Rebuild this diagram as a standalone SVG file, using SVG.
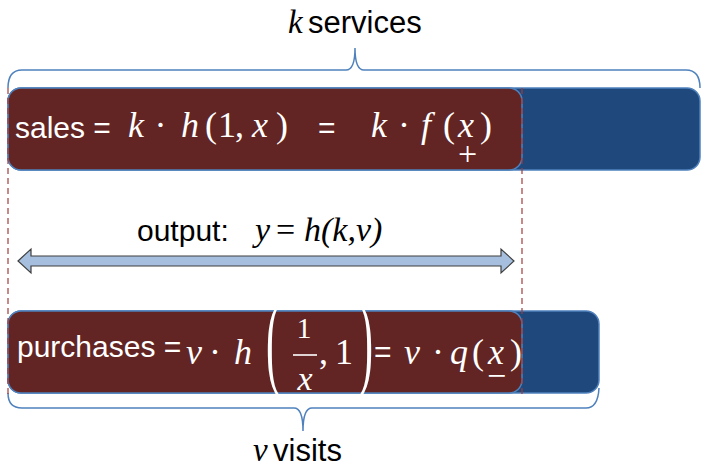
<svg xmlns="http://www.w3.org/2000/svg" width="702" height="468" viewBox="0 0 702 468">
<style>
.sans{font-family:"Liberation Sans",Arial,sans-serif;font-size:30px}
.serif{font-family:"Liberation Serif","Times New Roman",serif;font-size:36px}
.it{font-style:italic}
.w{fill:#ffffff}
.b{fill:#000000}
.blue{fill:#1F497D;stroke:#4F81BD;stroke-width:1.5}
.brown{fill:#632523;stroke:#4F81BD;stroke-width:1.5}
.brace{fill:none;stroke:#4F81BD;stroke-width:1.5}
.dash{fill:none;stroke:#A23A3A;stroke-width:1.2;stroke-dasharray:6 4}
.big{font-family:"Liberation Serif","Times New Roman",serif;font-size:105px;fill:#ffffff}
</style>
<rect width="702" height="468" fill="#ffffff"/>

<g id="k-services">
<text x="288" y="33" class="serif it b" style="font-size:33px">k</text>
<text x="308" y="33" class="sans b" style="font-size:31px">services</text>
</g>

<g id="top-bar">
<rect x="8" y="88" width="692" height="82" rx="13" class="blue"/>
<rect x="8" y="88" width="514" height="82" rx="13" class="brown"/>
<text x="15" y="138" class="sans w">sales =</text>
<text y="137" class="serif w"><tspan x="128" class="it">k</tspan><tspan x="154.5">·</tspan><tspan x="181" class="it">h</tspan><tspan x="205">(</tspan><tspan x="218">1</tspan><tspan x="235">,</tspan><tspan x="252" class="it">x</tspan><tspan x="276">)</tspan></text>
<text x="318" y="138" class="sans w">=</text>
<text y="137" class="serif w"><tspan x="371" class="it">k</tspan><tspan x="398">·</tspan><tspan x="421" class="it">f</tspan><tspan x="443">(</tspan><tspan x="458" class="it">x</tspan><tspan x="480">)</tspan><tspan x="458" y="165" style="font-size:34px">+</tspan></text>
</g>

<g id="output-label">
<text x="137" y="241" class="sans b">output:</text>
<text y="241" class="serif it b" style="font-size:34px"><tspan x="255">y</tspan><tspan x="276" font-style="normal">=</tspan><tspan x="304">h(k,v)</tspan></text>
</g>

<g id="bottom-bar">
<rect x="8" y="311" width="591" height="82" rx="13" class="blue"/>
<rect x="8" y="311" width="514" height="82" rx="13" class="brown"/>
<text x="17" y="357" class="sans w">purchases =</text>
<text y="364" class="serif w"><tspan x="186" class="it">v</tspan><tspan x="209">·</tspan><tspan x="234" class="it">h</tspan></text>
<text transform="translate(266,376) scale(0.4,1)" class="big">(</text>
<text x="304" y="338" class="serif w" style="font-size:30px" text-anchor="middle">1</text>
<line x1="293" y1="355" x2="317" y2="355" stroke="#ffffff" stroke-width="1.6"/>
<text x="305" y="390" class="serif it w" style="font-size:34px" text-anchor="middle">x</text>
<text y="364" class="serif w"><tspan x="319">,</tspan><tspan x="335">1</tspan></text>
<text transform="translate(359,376) scale(0.4,1)" class="big">)</text>
<text x="374" y="362" class="sans w">=</text>
<text y="364" class="serif w"><tspan x="404" class="it">v</tspan><tspan x="432">·</tspan><tspan x="450" class="it">q</tspan><tspan x="472">(</tspan><tspan x="488" class="it">x</tspan><tspan x="510">)</tspan><tspan x="487" y="387" style="font-size:34px">−</tspan></text>
</g>

<g id="v-visits">
<text x="253" y="461" class="serif it b" style="font-size:33px">v</text>
<text x="273" y="461" class="sans b" style="font-size:31px">visits</text>
</g>

<g id="connectors">
<path class="brace" d="M8,88 Q8,70 22,70 L346,70 Q355,70 355,48 Q355,70 364,70 L686,70 Q700,70 700,88"/>
<path class="brace" d="M8,393 Q8,408 22,408 L294,408 Q303,408 303,431 Q303,408 312,408 L586,408 Q598,408 599,388"/>
<line class="dash" x1="8" y1="88" x2="8" y2="396"/>
<line class="dash" x1="522" y1="88" x2="522" y2="396"/>
<polygon points="18,261 31,249 31,256 501,256 501,249 514,261 501,273 501,266 31,266 31,273" fill="#A7BFDE" stroke="#3F3F3F" stroke-width="1.2"/>
</g>
</svg>
